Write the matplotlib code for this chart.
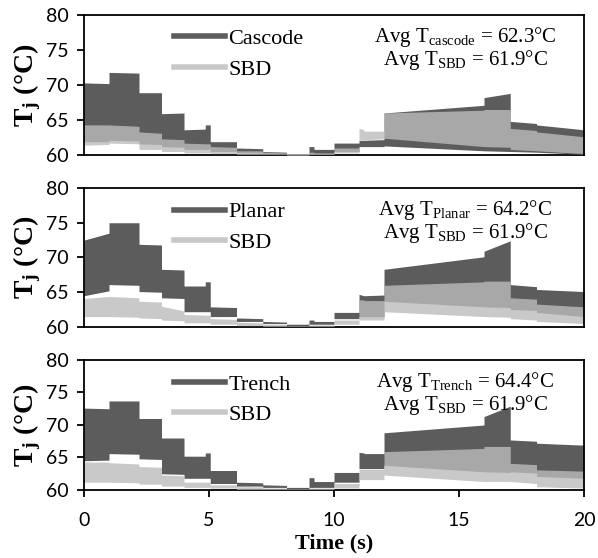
import matplotlib
matplotlib.use("Agg")
import matplotlib.pyplot as plt
from matplotlib.lines import Line2D
from matplotlib.transforms import offset_copy
import numpy as np

# segment edges of the drive cycle (s); each series below gives (start, end) per segment
seg_edges = [0.0, 1.0, 2.2, 3.1, 4.0, 4.85, 5.05, 6.1, 7.15, 8.1, 9.0, 9.2,
             10.0, 11.0, 11.2, 12.0, 16.0, 17.05, 18.1, 20.0]

# Cascode
cascode_max = [(70.3, 70.2), (71.8, 71.7), (68.9, 68.9), (65.9, 66.0), (63.6, 63.7),
               (64.3, 64.3), (61.9, 61.9), (61.0, 60.9), (60.5, 60.4), (60.2, 60.2),
               (61.2, 61.2), (60.8, 60.8), (61.7, 61.7), (62.1, 62.1), (62.1, 62.2),
               (66.0, 67.1), (68.2, 68.8), (64.8, 64.5), (64.3, 63.6)]
cascode_min = [(61.9, 61.9), (62.1, 62.0), (61.6, 61.5), (61.2, 61.1), (60.8, 60.8),
               (60.8, 60.8), (60.5, 60.5), (60.3, 60.3), (60.2, 60.2), (60.0, 60.0),
               (60.1, 60.1), (60.1, 60.1), (60.5, 60.5), (61.2, 61.2), (61.2, 61.2),
               (61.3, 60.6), (60.6, 60.5), (60.5, 60.4), (60.4, 60.1)]
sbd1_max = [(64.3, 64.3), (64.3, 64.1), (63.3, 63.1), (62.3, 62.2), (61.7, 61.6),
            (61.6, 61.6), (61.2, 61.1), (60.6, 60.6), (60.4, 60.3), (60.2, 60.2),
            (60.4, 60.4), (60.3, 60.3), (61.0, 61.0), (63.8, 63.6), (63.4, 63.4),
            (66.0, 66.4), (66.5, 66.5), (63.8, 63.5), (63.3, 62.6)]
sbd1_min = [(61.4, 61.5), (61.7, 61.6), (60.8, 60.8), (60.5, 60.5), (60.3, 60.3),
            (60.3, 60.3), (60.2, 60.2), (60.1, 60.1), (60.1, 60.1), (60.0, 60.0),
            (60.1, 60.1), (60.1, 60.1), (60.3, 60.3), (62.2, 62.2), (62.2, 62.3),
            (62.4, 61.2), (61.2, 61.1), (60.8, 60.6), (60.6, 60.2)]

# Planar
planar_max = [(72.5, 73.5), (75.0, 75.0), (71.9, 71.8), (68.3, 68.2), (65.9, 65.9),
              (66.5, 66.5), (62.9, 62.8), (61.3, 61.2), (60.8, 60.7), (60.4, 60.4),
              (61.0, 61.0), (60.8, 60.8), (62.1, 62.1), (64.7, 64.5), (64.5, 64.6),
              (68.3, 70.1), (70.9, 72.4), (66.1, 65.8), (65.4, 65.1)]
planar_min = [(64.5, 65.2), (66.1, 66.0), (65.1, 65.0), (64.2, 64.1), (62.2, 62.2),
              (62.2, 62.2), (61.5, 61.5), (60.8, 60.8), (60.5, 60.5), (60.2, 60.2),
              (60.4, 60.4), (60.4, 60.4), (61.2, 61.2), (61.5, 61.5), (61.5, 61.5),
              (63.7, 62.9), (62.9, 62.8), (62.5, 62.4), (62.1, 61.5)]
sbd2_max = [(64.1, 64.4), (64.4, 64.2), (63.7, 63.6), (63.0, 62.3), (61.8, 61.7),
            (61.7, 61.7), (61.2, 61.1), (60.7, 60.6), (60.4, 60.4), (60.2, 60.2),
            (60.3, 60.3), (60.3, 60.3), (61.0, 61.0), (63.9, 63.9), (63.8, 63.8),
            (66.0, 66.5), (66.6, 66.6), (64.2, 64.0), (63.3, 62.9)]
sbd2_min = [(61.5, 61.5), (61.5, 61.4), (61.3, 61.2), (61.0, 60.9), (60.6, 60.6),
            (60.6, 60.6), (60.4, 60.4), (60.2, 60.2), (60.1, 60.1), (60.1, 60.1),
            (60.1, 60.1), (60.1, 60.1), (60.4, 60.4), (61.0, 61.0), (61.0, 61.0),
            (62.2, 61.5), (61.5, 61.4), (61.2, 61.0), (60.8, 60.5)]

# Trench
trench_max = [(72.6, 72.5), (73.7, 73.7), (71.0, 71.0), (68.0, 68.0), (65.2, 65.2),
              (65.7, 65.7), (63.0, 63.0), (61.2, 61.1), (60.8, 60.7), (60.4, 60.4),
              (61.9, 61.9), (61.3, 61.3), (62.7, 62.7), (65.8, 65.7), (65.6, 65.6),
              (68.8, 70.0), (71.3, 72.9), (67.7, 67.5), (67.2, 66.9)]
trench_min = [(64.5, 64.6), (65.6, 65.5), (64.8, 64.7), (62.5, 62.4), (61.8, 61.8),
              (61.8, 61.8), (61.0, 61.0), (60.6, 60.6), (60.4, 60.4), (60.2, 60.2),
              (60.4, 60.4), (60.4, 60.4), (61.2, 61.2), (63.3, 63.3), (63.3, 63.3),
              (63.8, 62.8), (62.8, 62.7), (62.8, 62.6), (62.1, 61.8)]
sbd3_max = [(64.3, 64.3), (64.2, 64.0), (63.6, 63.5), (62.3, 62.2), (61.2, 61.2),
            (61.2, 61.2), (60.8, 60.8), (60.5, 60.5), (60.3, 60.3), (60.2, 60.2),
            (60.3, 60.3), (60.3, 60.3), (61.0, 61.0), (63.2, 63.2), (63.2, 63.2),
            (65.9, 66.4), (66.7, 66.7), (64.1, 63.9), (63.1, 62.9)]
sbd3_min = [(61.2, 61.2), (61.2, 61.1), (60.9, 60.9), (60.6, 60.6), (60.4, 60.4),
            (60.4, 60.4), (60.3, 60.3), (60.1, 60.1), (60.1, 60.1), (60.1, 60.1),
            (60.1, 60.1), (60.1, 60.1), (60.3, 60.3), (61.6, 61.6), (61.6, 61.6),
            (62.3, 61.3), (61.3, 61.3), (61.3, 61.0), (60.5, 60.3)]

device_names = ["Cascode", "Planar", "Trench"]
avg_labels = ["cascode", "Planar", "Trench"]
avg_device = [62.3, 64.2, 64.4]
avg_sbd = [61.9, 61.9, 61.9]
panels = [(cascode_max, cascode_min, sbd1_max, sbd1_min),
          (planar_max, planar_min, sbd2_max, sbd2_min),
          (trench_max, trench_min, sbd3_max, sbd3_min)]

x_ticks = [0, 5, 10, 15, 20]
y_ticks = [60, 65, 70, 75, 80]

DARK = "#5c5c5c"
LIGHT = "#bcbcbc"
LIGHT_LINE = "#c8c8c8"
SERIF = "Liberation Serif"

plt.rcParams["mathtext.fontset"] = "custom"
plt.rcParams["mathtext.rm"] = SERIF
plt.rcParams["mathtext.bf"] = SERIF + ":bold"
plt.rcParams["mathtext.it"] = SERIF + ":italic"


def expand(pairs):
    t = []
    v = []
    for i, (a, b) in enumerate(pairs):
        t += [seg_edges[i], seg_edges[i + 1]]
        v += [a, b]
    return np.array(t), np.array(v)


fig = plt.figure(figsize=(5.98, 5.58), dpi=100)
W, H = 598.0, 558.0
left, right = 84, 584
boxes = [(15, 155), (188, 327), (360, 490)]

for k, (top, bot) in enumerate(boxes):
    ax = fig.add_axes([left / W, 1 - bot / H, (right - left) / W, (bot - top) / H])
    dmax, dmin, smax, smin = panels[k]
    t, hi = expand(dmax)
    _, lo = expand(dmin)
    ax.fill_between(t, lo, hi, color=DARK, lw=0, zorder=3)
    t, hi = expand(smax)
    _, lo = expand(smin)
    ax.fill_between(t, lo, hi, color=LIGHT, alpha=0.8, lw=0, zorder=3)

    ax.set_xlim(0, 20)
    ax.set_ylim(60, 80)
    ax.set_yticks(y_ticks)
    ax.set_xticks(x_ticks)
    for side in ["left", "top", "right"]:
        ax.spines[side].set_zorder(4)
    for sp in ax.spines.values():
        sp.set_linewidth(1.3)
    ax.tick_params(direction="out", length=5, width=1.3, labelsize=14)
    ax.tick_params(axis="y", pad=6)
    ax.tick_params(axis="x", pad=11)
    for lab in ax.get_yticklabels() + ax.get_xticklabels():
        lab.set_fontfamily("Lato")
    if k < 2:
        ax.tick_params(axis="x", bottom=False, labelbottom=False)
    else:
        ax.set_xlabel("Time (s)", fontfamily=SERIF, fontweight="bold", fontsize=16, labelpad=3)

    ax.set_ylabel(r"$\mathbf{T_j}$ (°C)", fontfamily=SERIF, fontweight="bold", fontsize=20, labelpad=2)

    handles = [Line2D([0], [0], color=DARK, lw=4),
               Line2D([0], [0], color=LIGHT_LINE, lw=4)]
    ax.legend(handles, [device_names[k], "SBD"], loc="upper left",
              bbox_to_anchor=(0.14, 1.045), frameon=False,
              prop={"family": SERIF, "size": 16}, handlelength=2.3,
              handletextpad=0.15, labelspacing=0.45)

    # average temperatures, two centred lines just below the top spine
    base = offset_copy(ax.transAxes, fig=fig, units="dots", y=-27)
    ax.text(0.762, 1.0, r"Avg T$_{\mathrm{%s}}$ = %.1f°C" % (avg_labels[k], avg_device[k]),
            transform=base, ha="center", va="baseline", fontfamily=SERIF, fontsize=15)
    base2 = offset_copy(ax.transAxes, fig=fig, units="dots", y=-50)
    ax.text(0.762, 1.0, r"Avg T$_{\mathrm{SBD}}$ = %.1f°C" % avg_sbd[k],
            transform=base2, ha="center", va="baseline", fontfamily=SERIF, fontsize=15)

fig.savefig("out.png", dpi=100)
